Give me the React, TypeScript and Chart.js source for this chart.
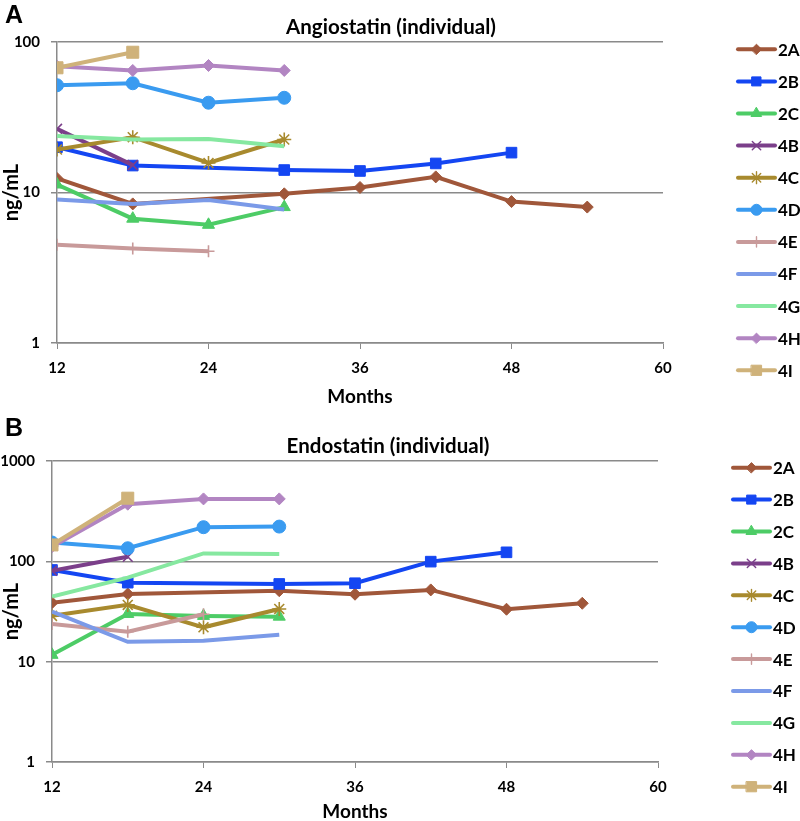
import React, { useEffect, useRef } from 'react';
import { Chart, registerables } from 'chart.js';
import { drawPoint } from 'chart.js/helpers';

Chart.register(...registerables);

// ---------- DATA ----------
const months = [12, 18, 24, 30, 36, 42, 48, 54];
const seriesNames = ['2A', '2B', '2C', '4B', '4C', '4D', '4E', '4F', '4G', '4H', '4I'];
const xTickValues = [12, 24, 36, 48, 60];
const angioYTicks = [1, 10, 100];
const endoYTicks = [1, 10, 100, 1000];

// Angiostatin (ng/mL), by month (12,18,24,30,36,42,48,54); null = no sample
const angio2A = [12.4, 8.4, null, 9.8, 10.8, 12.7, 8.7, 8.0];
const angio2B = [20.0, 15.1, null, 14.1, 13.9, 15.6, 18.4];
const angio2C = [11.3, 6.7, 6.1, 8.0];
const angio4B = [26.5, 15.2];
const angio4C = [19.3, 23.3, 15.7, 22.5];
const angio4D = [51.6, 53.2, 39.5, 42.6];
const angio4E = [4.5, 4.25, 4.07];
const angio4F = [9.0, 8.4, 8.9, 7.7];
const angio4G = [23.7, 22.5, 22.7, 20.3];
const angio4H = [69, 64.7, 69.8, 64.7];
const angio4I = [67.4, 85.5];

// Endostatin (ng/mL)
const endo2A = [38.7, 47.3, null, 51, 47, 51.9, 33.3, 38.2];
const endo2B = [82, 61.3, null, 59.5, 60.5, 99.3, 123];
const endo2C = [11.7, 29.9, 28.6, 28.1];
const endo4B = [80.7, 111];
const endo4C = [28.6, 36.8, 22, 33.5];
const endo4D = [154, 135, 219, 222];
const endo4E = [23.8, 19.9, 29.7];
const endo4F = [31.5, 15.8, 16.2, 18.5];
const endo4G = [44.5, 68.8, 120, 118];
const endo4H = [140, 371, 419, 419];
const endo4I = [145.7, 426];

const angioSeries = [angio2A, angio2B, angio2C, angio4B, angio4C, angio4D, angio4E, angio4F, angio4G, angio4H, angio4I];
const endoSeries = [endo2A, endo2B, endo2C, endo4B, endo4C, endo4D, endo4E, endo4F, endo4G, endo4H, endo4I];

// ---------- STYLES ----------
const seriesColors = ['#A0573A', '#1446F2', '#4DCC66', '#7B3F8A', '#A88A2E', '#3A9BF0', '#C89A9A', '#7B9AE8', '#86E8A0', '#B285C2', '#CFB27A'];
const seriesMarkers: (string | false)[] = ['rectRot', 'rect', 'triangle', 'crossRot', 'star', 'circle', 'cross', false, false, 'rectRot', 'rect'];
const markerRadius = [6, 7.5, 7, 7, 7, 6.5, 6, 0, 0, 6, 8.5];

const FONT = 'Lato, "Open Sans", sans-serif';
const GRID = '#8a8a8a';

type PanelCfg = {
  letter: string;
  title: string;
  series: (number | null)[][];
  yTicks: number[];
  height: number;
  padTop: number;
  yAxisW: number;
  padRight: number;
  xAxisH: number;
  xTickPad: number;
  xTitlePad: number;
  titleX: number;
  titleY: number;
  letterY: number;
  legLineX1: number;
  legLineX2: number;
  legTextX: number;
  legY0: number;
  legStep: number;
};

const panels: PanelCfg[] = [
  {
    letter: 'A', title: 'Angiostatin (individual)', series: angioSeries, yTicks: angioYTicks,
    height: 410, padTop: 42, yAxisW: 57, padRight: 137, xAxisH: 67, xTickPad: 10.5, xTitlePad: 2,
    titleX: 391, titleY: 27, letterY: 16,
    legLineX1: 738, legLineX2: 775, legTextX: 778, legY0: 49.3, legStep: 32.1,
  },
  {
    letter: 'B', title: 'Endostatin (individual)', series: endoSeries, yTicks: endoYTicks,
    height: 420, padTop: 51, yAxisW: 52, padRight: 142, xAxisH: 68, xTickPad: 10.5, xTitlePad: 6.6,
    titleX: 388, titleY: 36, letterY: 19,
    legLineX1: 733, legLineX2: 770, legTextX: 773, legY0: 57.7, legStep: 31.9,
  },
];

function Panel({ cfg }: { cfg: PanelCfg }) {
  const ref = useRef<HTMLCanvasElement>(null);
  useEffect(() => {
    const canvas = ref.current!;
    const datasets = seriesNames.map((name, i) => {
      const vals = cfg.series[i];
      const data = vals
        .map((v, j) => ({ x: months[j], y: v }))
        .filter((p) => p.y !== null && p.y !== undefined);
      const marker = seriesMarkers[i];
      const isCross = marker === 'crossRot' || marker === 'star' || marker === 'cross';
      return {
        label: name,
        data,
        borderColor: seriesColors[i],
        backgroundColor: seriesColors[i],
        borderWidth: 4,
        pointStyle: marker || 'circle',
        pointRadius: marker ? markerRadius[i] : 0,
        pointHoverRadius: marker ? markerRadius[i] : 0,
        pointBorderWidth: isCross ? 1.6 : 1,
        pointBackgroundColor: seriesColors[i],
        pointBorderColor: seriesColors[i],
        tension: 0,
        order: -i,
      };
    });

    const overlay = {
      id: 'overlay',
      afterDraw(chart: any) {
        const ctx = chart.ctx as CanvasRenderingContext2D;
        ctx.save();
        ctx.fillStyle = '#000';
        ctx.textBaseline = 'middle';
        ctx.textAlign = 'left';
        ctx.font = 'bold 25px "Liberation Sans", Arial, sans-serif';
        ctx.fillText(cfg.letter, 5, cfg.letterY);
        ctx.textAlign = 'center';
        ctx.font = `bold 20.5px ${FONT}`;
        ctx.fillText(cfg.title, cfg.titleX, cfg.titleY);
        // legend
        seriesNames.forEach((name, i) => {
          const y = cfg.legY0 + i * cfg.legStep;
          const c = seriesColors[i];
          ctx.strokeStyle = c;
          ctx.fillStyle = c;
          ctx.lineWidth = 4;
          ctx.lineCap = 'round';
          ctx.beginPath();
          ctx.moveTo(cfg.legLineX1, y);
          ctx.lineTo(cfg.legLineX2, y);
          ctx.stroke();
          const marker = seriesMarkers[i];
          if (marker) {
            const isCross = marker === 'crossRot' || marker === 'star' || marker === 'cross';
            ctx.lineWidth = isCross ? 1.4 : 1;
            drawPoint(ctx, { pointStyle: marker as any, radius: markerRadius[i] * 0.85, rotation: 0, borderWidth: ctx.lineWidth } as any,
              (cfg.legLineX1 + cfg.legLineX2) / 2, y);
          }
          ctx.fillStyle = '#000';
          ctx.textAlign = 'left';
          ctx.font = `bold 17px ${FONT}`;
          ctx.fillText(name, cfg.legTextX, y + 1);
        });
        ctx.restore();
      },
    };

    const chart = new Chart(canvas, {
      type: 'line',
      data: { datasets: datasets as any },
      options: {
        animation: false,
        responsive: false,
        devicePixelRatio: 1,
        events: [],
        layout: { padding: { top: cfg.padTop, right: cfg.padRight, left: 0, bottom: 0 } },
        plugins: { legend: { display: false }, tooltip: { enabled: false }, title: { display: false } },
        scales: {
          x: {
            type: 'linear',
            min: 12,
            max: 60,
            afterBuildTicks: (axis: any) => {
              axis.ticks = xTickValues.map((v) => ({ value: v }));
            },
            afterFit: (axis: any) => {
              axis.height = cfg.xAxisH;
            },
            grid: { drawOnChartArea: false, drawTicks: true, tickLength: 6, color: GRID, lineWidth: 1 },
            border: { color: GRID, width: 1.5 },
            ticks: {
              color: '#000',
              padding: cfg.xTickPad,
              maxRotation: 0,
              font: { family: FONT, size: 15, weight: 'bold', lineHeight: 1.2 },
              callback: (v: any) => String(v),
            },
            title: {
              display: true,
              text: 'Months',
              color: '#000',
              font: { family: FONT, size: 19, weight: 'bold', lineHeight: 1.2 },
              padding: { top: 0, bottom: cfg.xTitlePad },
            },
          },
          y: {
            type: 'logarithmic',
            min: cfg.yTicks[0],
            max: cfg.yTicks[cfg.yTicks.length - 1],
            afterBuildTicks: (axis: any) => {
              axis.ticks = cfg.yTicks.map((v) => ({ value: v }));
            },
            afterFit: (axis: any) => {
              axis.width = cfg.yAxisW;
            },
            grid: { color: GRID, lineWidth: 1.5, drawTicks: true, tickLength: 6 },
            border: { color: GRID, width: 1.5 },
            ticks: {
              color: '#000',
              padding: 11,
              font: { family: FONT, size: 15, weight: 'bold' },
              callback: (v: any) => String(v),
            },
            title: {
              display: true,
              text: 'ng/mL',
              color: '#000',
              font: { family: FONT, size: 20, weight: 'bold', lineHeight: 1.2 },
              padding: { top: 0, bottom: 0 },
            },
          },
        },
      } as any,
      plugins: [overlay],
    });
    return () => chart.destroy();
  }, [cfg]);
  return <canvas ref={ref} width={800} height={cfg.height} style={{ display: 'block', width: 800, height: cfg.height }} />;
}

export default function App() {
  return (
    <div style={{ position: 'absolute', left: 0, top: 0, width: 800, height: 821, overflow: 'hidden', background: '#fff' }}>
      {panels.map((p) => (
        <Panel key={p.letter} cfg={p} />
      ))}
    </div>
  );
}
